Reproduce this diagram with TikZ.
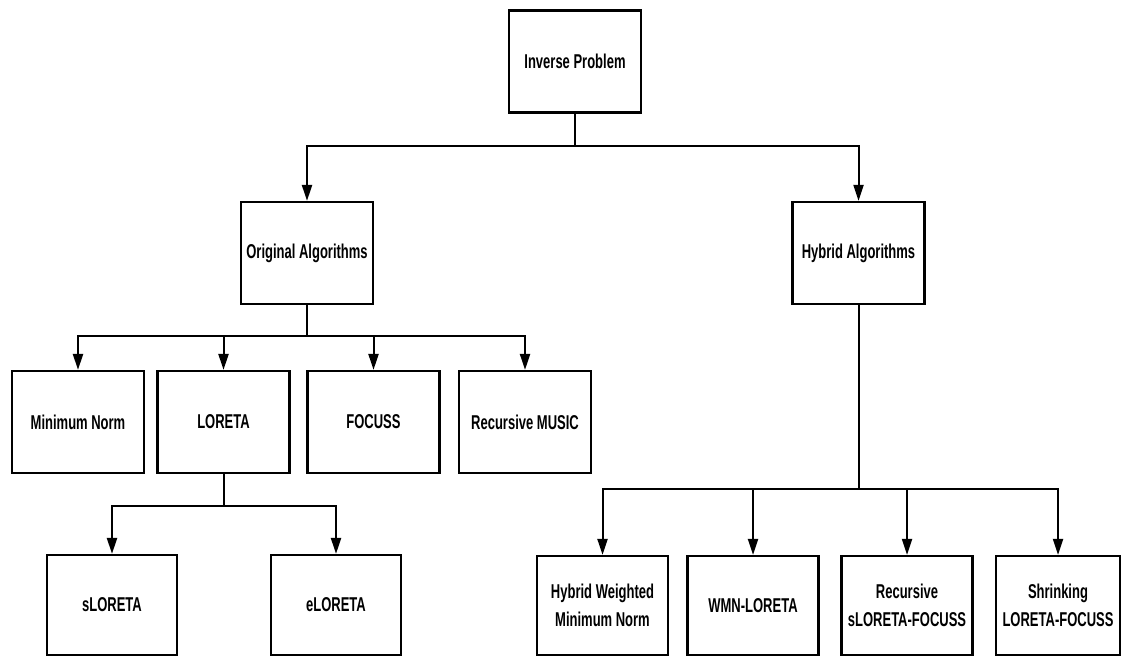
\documentclass[tikz,border=0pt]{standalone}
\usepackage{fontspec}
\newfontfamily\labfont{Liberation Sans}[FakeStretch=0.65]
\usetikzlibrary{arrows.meta}
\begin{document}
\begin{tikzpicture}[x=1pt,y=-1pt,
  box/.style={draw=black, line width=2.2pt, fill=white, minimum width=132pt, minimum height=102pt,
    inner sep=0pt, align=center, font=\labfont\bfseries\fontsize{20}{28}\selectfont},
  link/.style={line width=2pt, -{Triangle[length=16pt,width=10pt]}},
  bar/.style={line width=2pt}]
\useasboundingbox (0,0) rectangle (1123,657);
% nodes
\node[box] (ip) at (575,61.5) {Inverse Problem};
\node[box] (oa) at (307,253) {Original Algorithms};
\node[box] (ha) at (858.5,253) {Hybrid Algorithms};
\node[box] (mn) at (78,422) {Minimum Norm};
\node[box] (lo) at (223.5,422) {LORETA};
\node[box] (fo) at (373.5,422) {FOCUSS};
\node[box] (rm) at (525,422) {Recursive MUSIC};
\node[box, minimum height=100pt, minimum width=130pt] (sl) at (112,605) {sLORETA};
\node[box, minimum height=100pt, minimum width=130pt] (el) at (336,605) {eLORETA};
\node[box, minimum height=99pt, minimum width=131pt] (hw) at (602.5,605.5) {Hybrid Weighted\\Minimum Norm};
\node[box, minimum height=99pt, minimum width=131pt] (wm) at (753,605.5) {WMN-LORETA};
\node[box, minimum height=99pt, minimum width=131pt] (rs) at (907,605.5) {Recursive\\sLORETA-FOCUSS};
\node[box, minimum height=99pt, minimum width=124pt] (sh) at (1058,605.5) {Shrinking\\LORETA-FOCUSS};
% connectors
\foreach \c in {oa,ha} \draw[link] (ip.south) -- ++(0,32) -| (\c.north);
\foreach \c in {mn,lo,fo,rm} \draw[link] (oa.south) -- ++(0,31) -| (\c.north);
\foreach \c in {sl,el} \draw[link] (lo.south) -- ++(0,32) -| (\c.north);
\foreach \c in {hw,wm,rs,sh} \draw[link] (ha.south) -- ++(0,184) -| (\c.north);
\end{tikzpicture}
\end{document}
